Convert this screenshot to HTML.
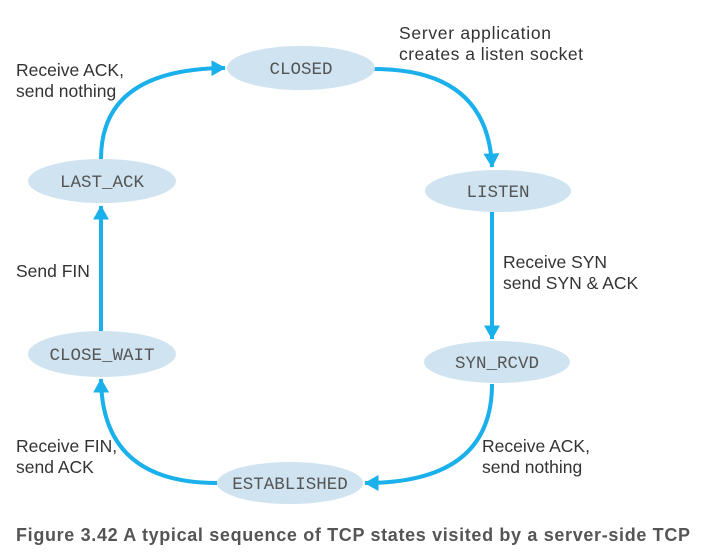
<!DOCTYPE html>
<html><head><style>
body{margin:0;background:#fff;width:704px;height:556px;overflow:hidden}
svg{display:block}
.s{font-family:"Liberation Mono",monospace;font-size:17.5px;fill:#555;text-anchor:middle}
.l{font-family:"Liberation Sans",sans-serif;font-size:17.5px;fill:#333}
</style></head><body>
<svg width="704" height="556" viewBox="0 0 704 556">
<defs><marker id="a" markerWidth="3.6" markerHeight="4" refX="3.4" refY="2" orient="auto" markerUnits="strokeWidth"><path d="M0,0 L3.6,2 L0,4 Z" fill="#1ab0ec"/></marker></defs>
<g fill="none" stroke="#1ab0ec" stroke-width="4" marker-end="url(#a)">
<path d="M374,69 Q488,69 492,167"/>
<path d="M492,212 L492,339"/>
<path d="M492,384 Q492,483 365,483"/>
<path d="M217,483 Q102,483 101,379"/>
<path d="M101,332 L101,206"/>
<path d="M101,159 Q101,69 225,68"/>
</g>
<g fill="#cfe3f0">
<ellipse cx="301" cy="68" rx="74" ry="22"/>
<ellipse cx="498" cy="191" rx="73" ry="21"/>
<ellipse cx="497" cy="362" rx="73" ry="21"/>
<ellipse cx="290" cy="483" rx="73" ry="21"/>
<ellipse cx="102" cy="354" rx="74" ry="23"/>
<ellipse cx="102" cy="181" rx="74" ry="22"/>
</g>
<text class="s" x="301" y="74">CLOSED</text>
<text class="s" x="498" y="197">LISTEN</text>
<text class="s" x="497" y="368">SYN_RCVD</text>
<text class="s" x="290" y="489">ESTABLISHED</text>
<text class="s" x="102" y="360">CLOSE_WAIT</text>
<text class="s" x="102" y="187">LAST_ACK</text>
<text class="l" x="399" y="39" textLength="152">Server application</text>
<text class="l" x="399" y="60" textLength="184">creates a listen socket</text>
<text class="l" x="16" y="76">Receive ACK,</text>
<text class="l" x="16" y="97">send nothing</text>
<text class="l" x="16" y="277">Send FIN</text>
<text class="l" x="503" y="268">Receive SYN</text>
<text class="l" x="503" y="289">send SYN &amp; ACK</text>
<text class="l" x="482" y="452">Receive ACK,</text>
<text class="l" x="482" y="473">send nothing</text>
<text class="l" x="16" y="452">Receive FIN,</text>
<text class="l" x="16" y="473">send ACK</text>
<text x="16" y="541" textLength="674" style="font-family:'Liberation Sans',sans-serif;font-size:18px;font-weight:bold;fill:#555">Figure 3.42 A typical sequence of TCP states visited by a server-side TCP</text>
</svg>
</body></html>
